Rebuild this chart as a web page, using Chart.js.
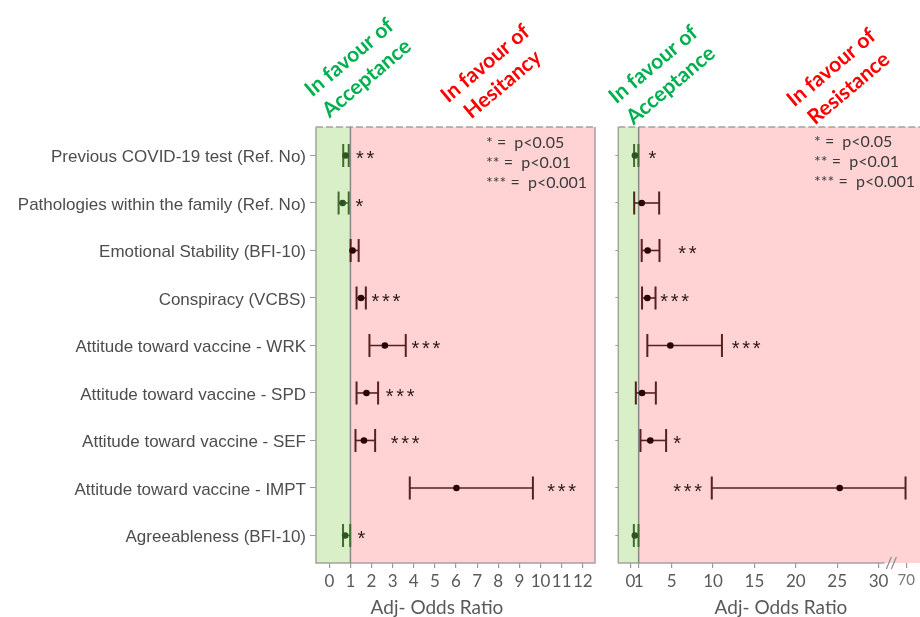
<!DOCTYPE html>
<html>
<head>
<meta charset="utf-8">
<script src="https://cdn.jsdelivr.net/npm/chart.js@4.4.1/dist/chart.umd.min.js"></script>
<style>
  html, body { margin: 0; padding: 0; background: #fff; overflow: hidden; }
  #wrap { position: relative; width: 920px; height: 617px; overflow: hidden; }
  #hes { position: absolute; left: 0; top: 0; }
  #res { position: absolute; left: 600px; top: 0; }
</style>
</head>
<body>
<div id="wrap">
  <canvas id="hes" width="605" height="617"></canvas>
  <canvas id="res" width="330" height="617"></canvas>
</div>
<script>
// rows, top to bottom
const rowLabels = [
  'Previous COVID-19 test (Ref. No)',
  'Pathologies within the family (Ref. No)',
  'Emotional Stability (BFI-10)',
  'Conspiracy (VCBS)',
  'Attitude toward vaccine - WRK',
  'Attitude toward vaccine - SPD',
  'Attitude toward vaccine - SEF',
  'Attitude toward vaccine - IMPT',
  'Agreeableness (BFI-10)'
];

// hesitancy model (left)
const hesOR   = [0.77, 0.63, 1.10, 1.50, 2.63, 1.76, 1.64, 6.02, 0.75];
const hesLow  = [0.66, 0.44, 1.01, 1.29, 1.90, 1.29, 1.24, 3.81, 0.65];
const hesHigh = [0.92, 0.92, 1.39, 1.73, 3.62, 2.31, 2.17, 9.64, 0.99];
const hesSig  = ['**', '*', '', '***', '***', '***', '***', '***', '*'];
const hesStarAt = [1.26, 1.24, 0, 2.0, 3.89, 2.67, 2.91, 10.32, 1.34];
const hesTicks = [0, 1, 2, 3, 4, 5, 6, 7, 8, 9, 10, 11, 12];

// resistance model (right)
const resOR   = [0.55, 1.37, 2.09, 2.05, 4.83, 1.41, 2.41, 25.3, 0.54];
const resLow  = [0.45, 0.46, 1.37, 1.41, 2.05, 0.66, 1.22, 9.84, 0.42];
const resHigh = [0.97, 3.48, 3.52, 3.04, 11.07, 3.08, 4.32, 69, 0.98];
const resSig  = ['*', '', '**', '***', '***', '', '*', '***', ''];
const resStarAt = [2.2, 0, 5.79, 3.6, 12.27, 0, 5.19, 5.19, 0];
const resTicks = [0, 1, 5, 10, 15, 20, 25, 30, 70];

const sigLegend = ['* =  p<0.05', '** =  p<0.01', '*** =  p<0.001'];

const greenFill = '#d9efc8';
const pinkFill = '#ffd3d3';
const frame = '#a3a3a3';
const greenLine = '#3f6b30', greenDot = '#2e5521';
const redLine = '#552020', redDot = '#2a0505';
const textGrey = '#595959';

// axis broken between 30 and 70
const BREAK_AT = 30, BREAK_K = 0.08375;
const squash = v => v <= BREAK_AT ? v : BREAK_AT + (v - BREAK_AT) * BREAK_K;
const unsquash = v => v <= BREAK_AT ? v : BREAK_AT + (v - BREAK_AT) / BREAK_K;

class BrokenLinearScale extends Chart.LinearScale {
  getPixelForValue(value) {
    return super.getPixelForValue(squash(value));
  }
  getValueForPixel(pixel) {
    return unsquash(super.getValueForPixel(pixel));
  }
}
BrokenLinearScale.id = 'brokenLinear';
BrokenLinearScale.defaults = Chart.LinearScale.defaults;
Chart.register(BrokenLinearScale);

const forest = {
  id: 'forest',
  beforeDatasetsDraw(chart, args, o) {
    const { ctx, chartArea: a, scales: { x, y } } = chart;
    const x1 = x.getPixelForValue(1);
    ctx.save();
    ctx.fillStyle = greenFill;
    ctx.fillRect(a.left, a.top, x1 - a.left, a.bottom - a.top);
    ctx.fillStyle = pinkFill;
    ctx.fillRect(x1, a.top, a.right - x1, a.bottom - a.top);

    // frame, top edge dashed
    const bottomEnd = o.brk ? x.getPixelForValue(BREAK_AT) + 6 : a.right;
    ctx.strokeStyle = frame;
    ctx.lineWidth = 1.5;
    ctx.beginPath();
    ctx.moveTo(a.left, a.top);
    ctx.lineTo(a.left, a.bottom);
    ctx.lineTo(bottomEnd, a.bottom);
    if (!o.brk) ctx.lineTo(a.right, a.top);
    ctx.stroke();
    ctx.setLineDash([7, 3]);
    ctx.beginPath();
    ctx.moveTo(a.left, a.top);
    ctx.lineTo(a.right, a.top);
    ctx.stroke();
    ctx.setLineDash([]);

    // OR = 1 line
    ctx.strokeStyle = '#8a8a8a';
    ctx.beginPath();
    ctx.moveTo(x1, a.top);
    ctx.lineTo(x1, a.bottom);
    ctx.stroke();

    // confidence intervals
    o.or.forEach((v, i) => {
      const py = y.getPixelForValue(i);
      const lo = x.getPixelForValue(o.low[i]);
      const hi = x.getPixelForValue(o.high[i]);
      ctx.strokeStyle = v < 1 ? greenLine : redLine;
      ctx.lineWidth = 1.6;
      ctx.beginPath();
      ctx.moveTo(lo, py);
      ctx.lineTo(hi, py);
      ctx.stroke();
      ctx.lineWidth = 2;
      ctx.beginPath();
      ctx.moveTo(lo, py - 11.5);
      ctx.lineTo(lo, py + 11.5);
      ctx.moveTo(hi, py - 11.5);
      ctx.lineTo(hi, py + 11.5);
      ctx.stroke();
    });
    ctx.restore();
  },
  afterDraw(chart, args, o) {
    const { ctx, chartArea: a, scales: { x, y } } = chart;
    ctx.save();

    // significance stars
    ctx.font = '20px "Liberation Sans", Arial, sans-serif';
    ctx.fillStyle = '#2b1818';
    ctx.textAlign = 'left';
    ctx.textBaseline = 'alphabetic';
    o.sig.forEach((s, i) => {
      const sx = x.getPixelForValue(o.starAt[i]);
      const sy = y.getPixelForValue(i) + 10;
      for (let k = 0; k < s.length; k++) ctx.fillText('*', sx + k * 10.5, sy);
    });

    // p-value key
    ctx.font = '16px Lato, sans-serif';
    ctx.fillStyle = '#3a3a3a';
    ctx.textBaseline = 'middle';
    sigLegend.forEach((t, i) => ctx.fillText(t, o.keyX, o.keyY + i * 20));

    // rotated region headers
    o.headers.forEach(h => {
      ctx.save();
      ctx.translate(h.x, h.y);
      ctx.rotate(-40 * Math.PI / 180);
      ctx.font = 'bold 21px Lato, sans-serif';
      ctx.fillStyle = h.color;
      ctx.textAlign = 'center';
      ctx.textBaseline = 'middle';
      ctx.fillText(h.lines[0], 0, -13.5);
      ctx.fillText(h.lines[1], 0, 13.5);
      ctx.restore();
    });

    // axis title
    ctx.font = '19px Lato, sans-serif';
    ctx.fillStyle = textGrey;
    ctx.textAlign = 'center';
    ctx.fillText('Adj- Odds Ratio', o.titleX, 608);

    // axis break mark
    if (o.brk) {
      const mid = (x.getPixelForValue(BREAK_AT) + x.getPixelForValue(70)) / 2;
      ctx.strokeStyle = '#8a8a8a';
      ctx.lineWidth = 1.2;
      ctx.beginPath();
      ctx.moveTo(mid - 6, a.bottom + 6);
      ctx.lineTo(mid - 1, a.bottom - 6);
      ctx.moveTo(mid - 1, a.bottom + 6);
      ctx.lineTo(mid + 4, a.bottom - 6);
      ctx.stroke();
    }
    ctx.restore();
  }
};

function forestChart(id, cfg) {
  return new Chart(document.getElementById(id), {
    type: 'scatter',
    data: {
      datasets: [{
        data: cfg.or.map((v, i) => ({ x: v, y: i })),
        pointRadius: 3.3,
        pointBorderWidth: 0,
        pointBackgroundColor: cfg.or.map(v => v < 1 ? greenDot : redDot)
      }]
    },
    options: {
      responsive: false,
      animation: false,
      layout: { padding: { top: 127, right: cfg.padRight, left: 0, bottom: 0 } },
      plugins: {
        legend: { display: false },
        tooltip: { enabled: false },
        forest: cfg
      },
      scales: {
        x: {
          type: cfg.scaleType,
          min: cfg.xMin,
          max: cfg.xMax,
          afterBuildTicks: s => { s.ticks = cfg.ticks.map(v => ({ value: v })); },
          afterFit: s => { s.height = 54; },
          grid: { drawOnChartArea: false, tickLength: 5, color: '#9a9a9a', lineWidth: 1.2 },
          border: { display: false },
          ticks: {
            autoSkip: false,
            maxRotation: 0,
            padding: 3,
            callback: v => String(v),
            color: c => c.tick && c.tick.value === 70 ? '#777' : textGrey,
            font: c => ({ family: 'Lato', size: c.tick && c.tick.value === 70 ? 15 : 17 })
          }
        },
        y: {
          type: 'linear',
          reverse: true,
          min: -0.6,
          max: 8.58,
          afterBuildTicks: s => { s.ticks = rowLabels.map((_, i) => ({ value: i })); },
          afterFit: s => { s.width = cfg.yWidth; },
          grid: { drawOnChartArea: false, tickLength: cfg.yTick, color: '#9a9a9a' },
          border: { display: false },
          ticks: {
            display: cfg.showLabels,
            padding: 4,
            labelOffset: 2,
            color: '#4d4d4d',
            font: { family: '"Liberation Sans", Arial, sans-serif', size: 17 },
            callback: v => rowLabels[v]
          }
        }
      }
    },
    plugins: [forest]
  });
}

forestChart('hes', {
  or: hesOR, low: hesLow, high: hesHigh, sig: hesSig, starAt: hesStarAt, ticks: hesTicks,
  scaleType: 'linear', xMin: -0.63, xMax: 12.58, padRight: 10,
  yWidth: 316, yTick: 6, showLabels: true,
  keyX: 486, keyY: 143, titleX: 437, brk: false,
  headers: [
    { x: 358, y: 68, color: '#00b050', lines: ['In favour of', 'Acceptance'] },
    { x: 494, y: 74, color: '#ff0000', lines: ['In favour of', 'Hesitancy'] }
  ]
});

forestChart('res', {
  or: resOR, low: resLow, high: resHigh, sig: resSig, starAt: resStarAt, ticks: resTicks,
  scaleType: 'brokenLinear', xMin: -1.46, xMax: 35.74, padRight: 0,
  yWidth: 18.3, yTick: 3, showLabels: false,
  keyX: 214, keyY: 142, titleX: 181, brk: true,
  headers: [
    { x: 62, y: 75, color: '#00b050', lines: ['In favour of', 'Acceptance'] },
    { x: 240, y: 78, color: '#ff0000', lines: ['In favour of', 'Resistance'] }
  ]
});
</script>
</body>
</html>
